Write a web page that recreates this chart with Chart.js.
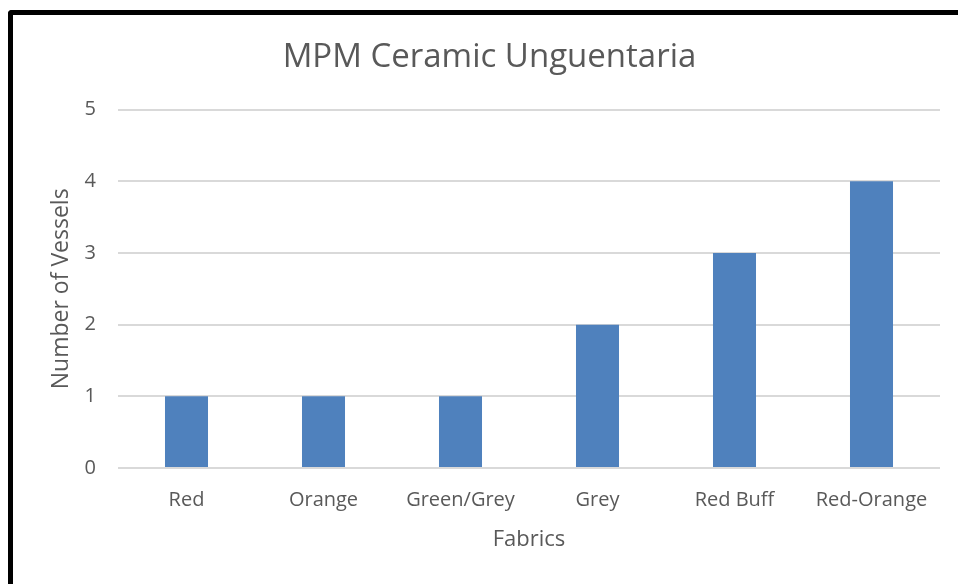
<!DOCTYPE html>
<html lang="en">
<head>
<meta charset="UTF-8" />
<title>MPM Ceramic Unguentaria</title>
<script src="https://cdn.jsdelivr.net/npm/chart.js@4"></script>
<style>
  html, body { margin: 0; padding: 0; background: #fff; }
  #wrap { position: relative; width: 958px; height: 584px; }
  #frame {
    position: absolute; left: 8px; top: 10px; right: -10px; bottom: -10px;
    border-left: 5px solid #000; border-top: 5px solid #000;
    border-top-left-radius: 4px; pointer-events: none;
  }
</style>
</head>
<body>
<div id="wrap">
  <canvas id="chart" width="958" height="584"></canvas>
  <div id="frame"></div>
</div>
<script>
  const fabrics = ["Red", "Orange", "Green/Grey", "Grey", "Red Buff", "Red-Orange"];
  const vessels = [1, 1, 1, 2, 3, 4];

  const textColor = "#595959";
  const fontFamily = "'Open Sans', 'Noto Sans', sans-serif";

  new Chart(document.getElementById("chart"), {
    type: "bar",
    data: {
      labels: fabrics,
      datasets: [{
        label: "Number of Vessels",
        data: vessels,
        backgroundColor: "#4F81BD",
        borderWidth: 0,
        categoryPercentage: 1,
        barPercentage: 0.314,
      }],
    },
    options: {
      responsive: false,
      animation: false,
      layout: { padding: { left: 39, right: 18, top: 0, bottom: 0 } },
      plugins: {
        legend: { display: false },
        tooltip: { enabled: false },
        title: {
          display: true,
          text: "MPM Ceramic Unguentaria",
          color: textColor,
          font: { family: fontFamily, size: 33, weight: "normal" },
          padding: { top: 38, bottom: 32 },
        },
      },
      scales: {
        x: {
          grid: { display: false },
          border: { display: false },
          ticks: { color: textColor, font: { family: fontFamily, size: 20 }, padding: 12 },
          title: {
            display: true,
            text: "Fabrics",
            color: textColor,
            font: { family: fontFamily, size: 22 },
            padding: { top: 0, bottom: 31 },
          },
          afterFit: (scale) => { scale.height = 116; },
        },
        y: {
          min: 0,
          max: 5,
          grid: { color: "#d9d9d9", lineWidth: 2, drawTicks: false },
          border: { display: false },
          ticks: { stepSize: 1, color: textColor, font: { family: fontFamily, size: 20 }, padding: 22 },
          title: {
            display: true,
            text: "Number of Vessels",
            color: textColor,
            font: { family: fontFamily, size: 23 },
            padding: { top: 9, bottom: 0 },
          },
          afterFit: (scale) => { scale.width = 79; },
        },
      },
    },
  });
</script>
</body>
</html>
